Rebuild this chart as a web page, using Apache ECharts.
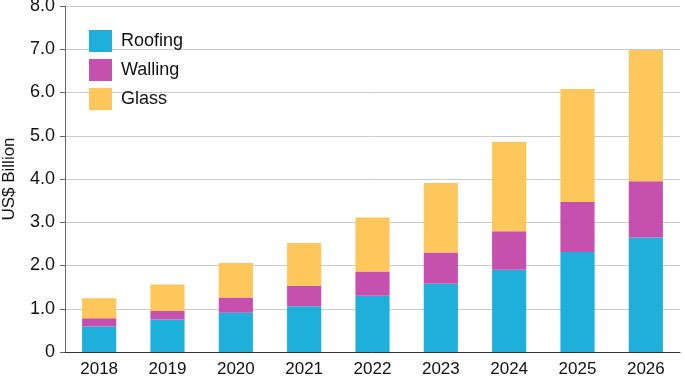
<!DOCTYPE html>
<html>
<head>
<meta charset="utf-8">
<script src="https://cdn.jsdelivr.net/npm/echarts@6/dist/echarts.min.js"></script>
<style>
  html, body { margin: 0; padding: 0; background: #fff; }
  #main { width: 685px; height: 377px; }
</style>
</head>
<body>
<div id="main"></div>
<script>
// data (US$ billion)
var years = ['2018', '2019', '2020', '2021', '2022', '2023', '2024', '2025', '2026'];
var roofing = [0.59, 0.75, 0.91, 1.06, 1.30, 1.58, 1.90, 2.31, 2.65];
var walling = [0.19, 0.20, 0.35, 0.47, 0.56, 0.72, 0.89, 1.16, 1.30];
var glass = [0.46, 0.61, 0.80, 0.99, 1.25, 1.61, 2.07, 2.61, 3.03];

var chart = echarts.init(document.getElementById('main'));

var font = 'Liberation Sans, Arial, sans-serif';

option = {
    animation: false,
    textStyle: { fontFamily: font },
    legend: {
        orient: 'vertical',
        left: 89,
        top: 30,
        padding: 0,
        itemWidth: 23,
        itemHeight: 22,
        itemGap: 7,
        icon: 'rect',
        textStyle: { fontSize: 18, color: '#111', fontFamily: font, padding: [0, 0, 0, 4] },
        data: ['Roofing', 'Walling', 'Glass']
    },
    grid: { left: 65, right: 5, top: 6, bottom: 25, outerBoundsMode: 'none' },
    xAxis: {
        type: 'category',
        data: years,
        axisLine: { lineStyle: { color: '#333', width: 1 } },
        axisTick: { show: false },
        axisLabel: { fontSize: 17, color: '#111', margin: 9, fontFamily: font }
    },
    yAxis: {
        type: 'value',
        min: 0,
        max: 8,
        interval: 1,
        name: 'US$ Billion',
        nameLocation: 'middle',
        nameGap: 47,
        nameTextStyle: { fontSize: 17, color: '#111', fontFamily: font },
        axisLine: { show: true, lineStyle: { color: '#666', width: 1 } },
        axisTick: { show: true, length: 5, lineStyle: { color: '#666' } },
        axisLabel: {
            fontSize: 18, color: '#111', margin: 10, fontFamily: font,
            formatter: function (v) { return v === 0 ? '0' : v.toFixed(1); }
        },
        splitLine: { lineStyle: { color: '#ccc', width: 1 } }
    },
    series: [
        { name: 'Roofing', type: 'bar', stack: 'total', barWidth: '50%', data: roofing, itemStyle: { color: '#1EB0DA' } },
        { name: 'Walling', type: 'bar', stack: 'total', data: walling, itemStyle: { color: '#C550AE' } },
        { name: 'Glass', type: 'bar', stack: 'total', data: glass, itemStyle: { color: '#FEC75C' } }
    ]
};

chart.setOption(option);
</script>
</body>
</html>
